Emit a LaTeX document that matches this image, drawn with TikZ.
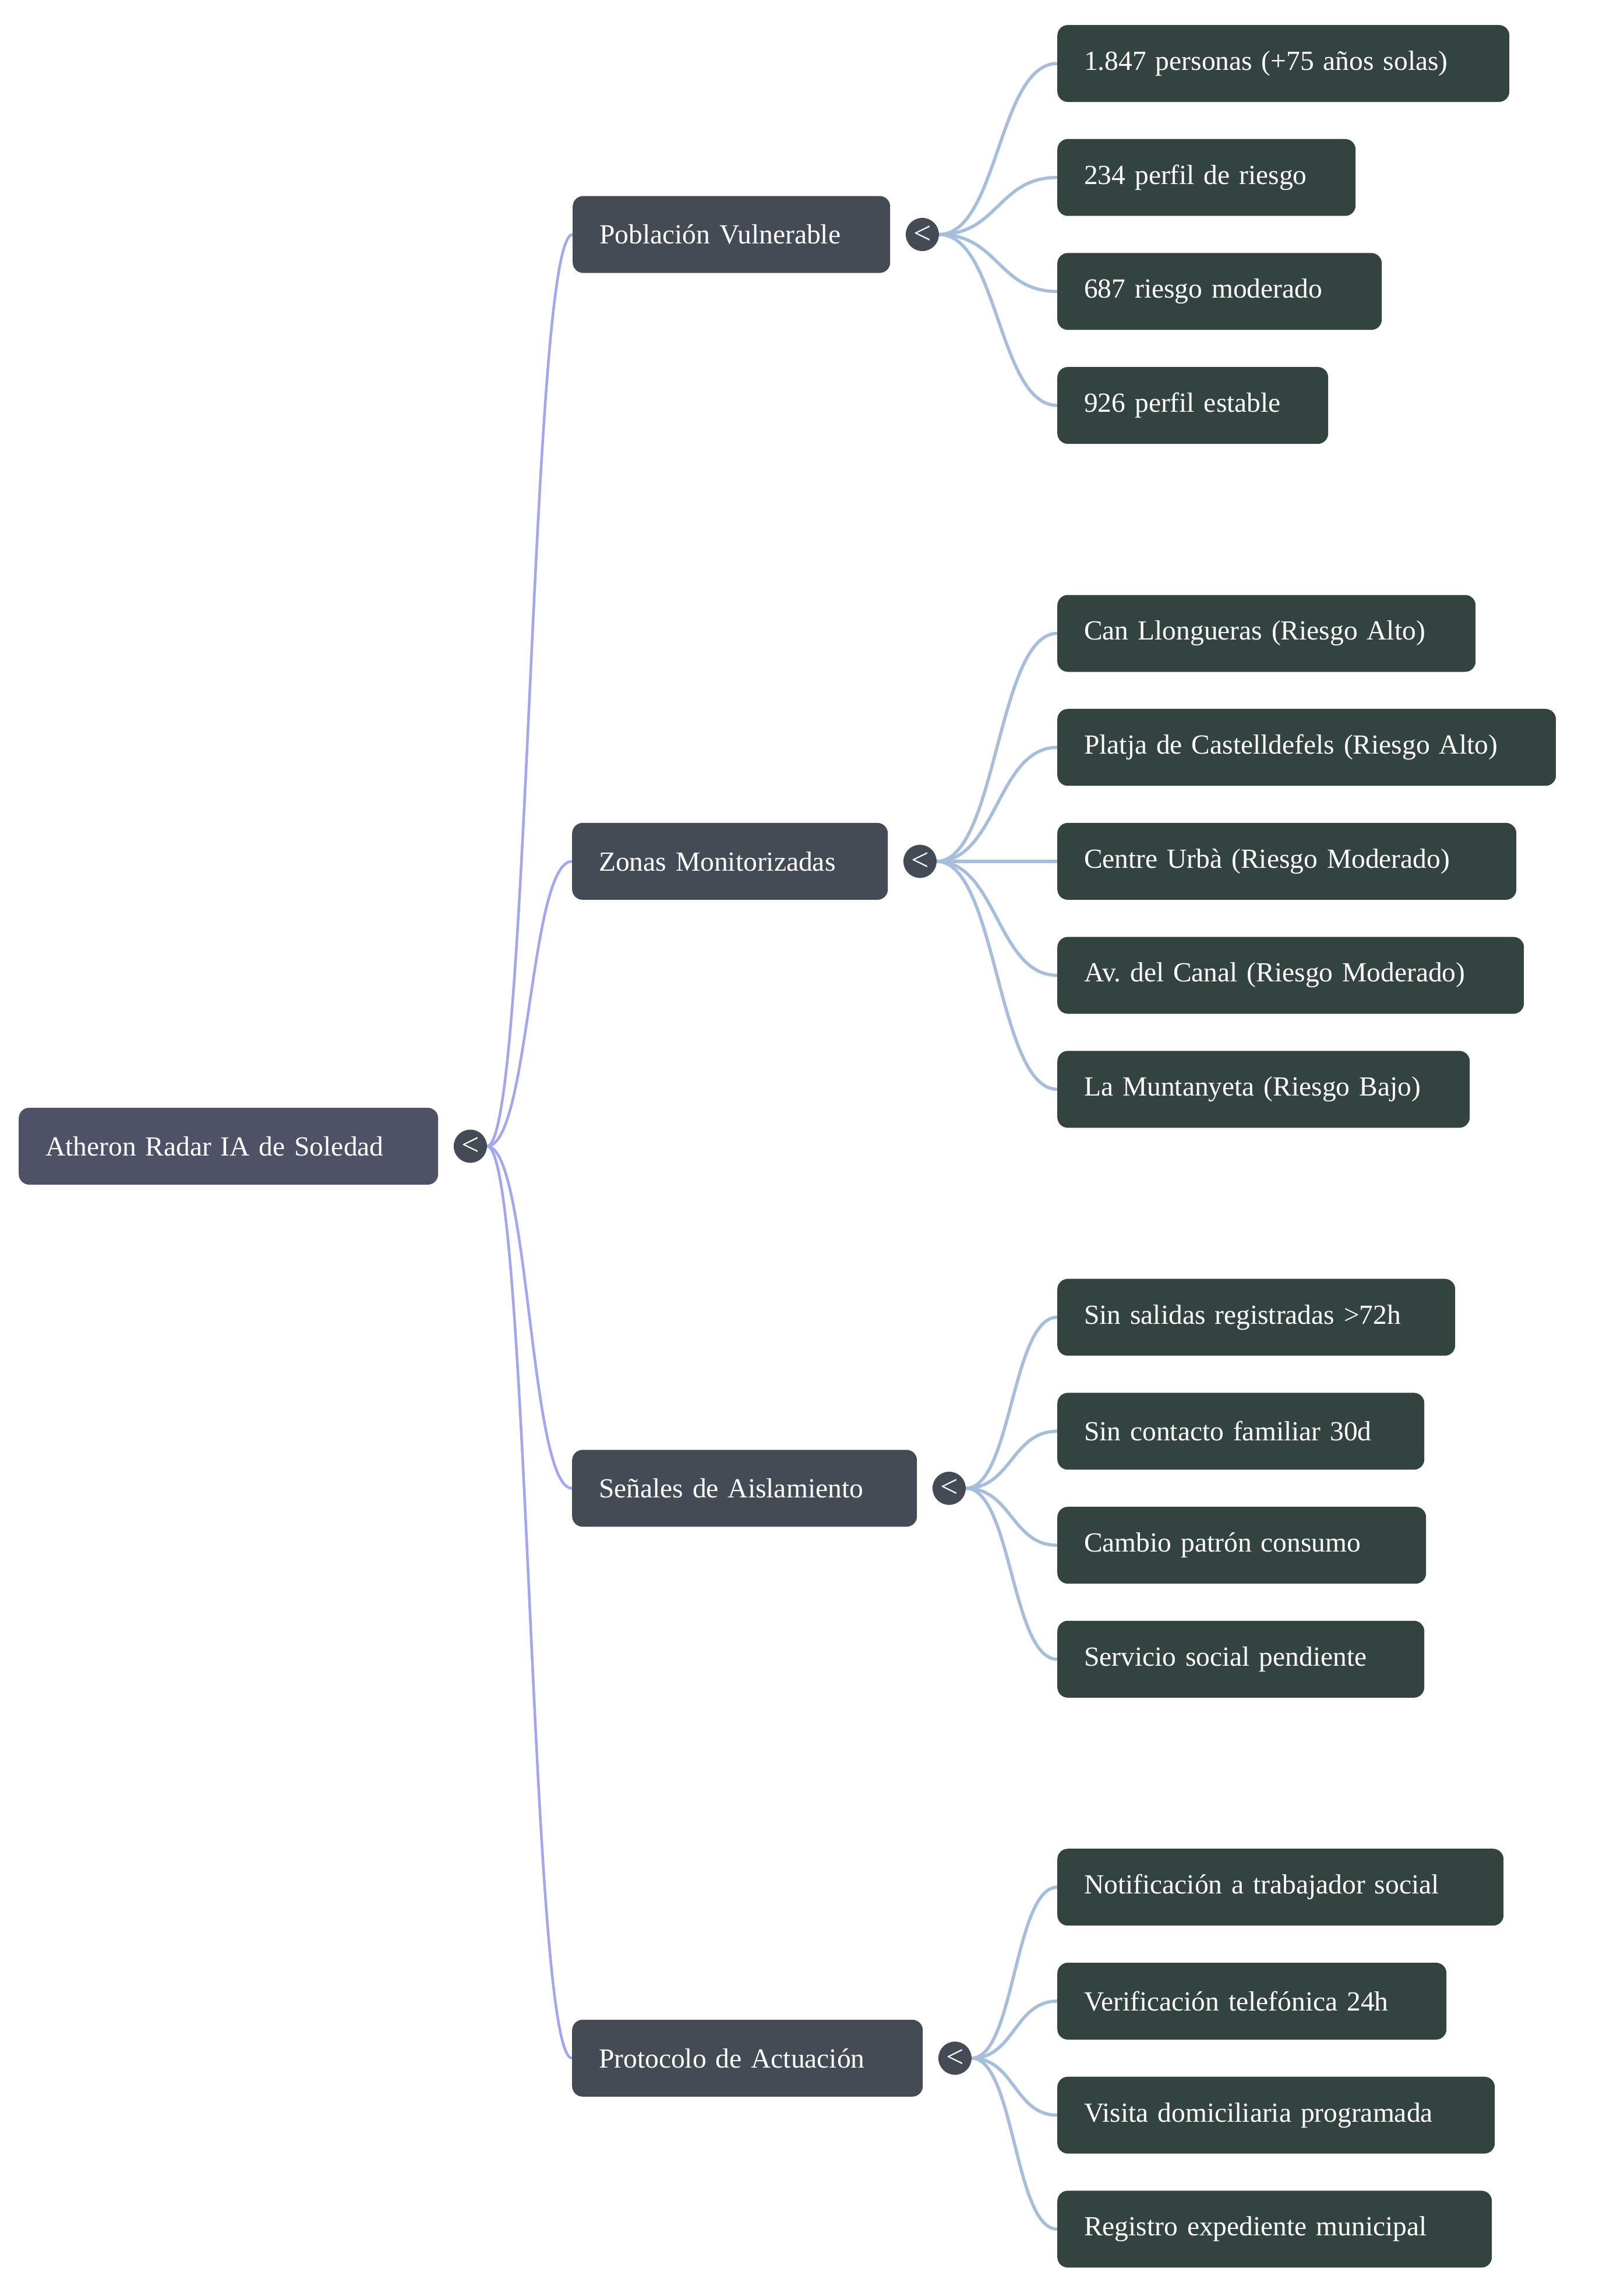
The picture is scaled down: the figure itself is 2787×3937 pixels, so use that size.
\documentclass[tikz,border=0pt]{standalone}
\usepackage{fontspec}
\setmainfont{Liberation Serif}
\usetikzlibrary{calc}
\pgfdeclarelayer{background}
\pgfsetlayers{background,main}
\definecolor{rootc}{HTML}{4F5166}
\definecolor{catc}{HTML}{444B55}
\definecolor{leafc}{HTML}{33433F}
\definecolor{rootline}{HTML}{A0A5F6}
\definecolor{leafline}{HTML}{A5BEDB}
\tikzset{
  box/.style={rectangle, rounded corners=18pt, minimum height=132pt, inner xsep=46pt, inner ysep=0pt, text=white, font=\fontsize{47.5}{57}\selectfont\frenchspacing, anchor=west, align=left},
  rootbox/.style={box, fill=rootc},
  catbox/.style={box, fill=catc},
  leafbox/.style={box, fill=leafc},
  toggle/.style={circle, fill=catc, minimum size=57pt, inner sep=0pt, text=white, font=\fontsize{54}{54}\selectfont},
  rootedge/.style={draw=rootline, line width=4.5pt},
  leafedge/.style={draw=leafline, line width=5.5pt},
}
\newcommand\mmlink[3]{%
  \draw[#1] let \p1=(#2.east), \p2=(#3.west), \n1={(\x1+\x2)/2} in (\p1) .. controls (\n1,\y1) and (\n1,\y2) .. (\p2);}
\newcommand\mmbox[6]{\pgfmathsetmacro\mmtw{#5-92}\node[#1, text width=\mmtw pt] (#2) at (#3,#4) {#6};}
\begin{document}
\begin{tikzpicture}[x=1pt,y=-1pt]
\useasboundingbox (0,0) rectangle (2787,3937);
% root
\mmbox{rootbox}{root}{32}{1968}{720}{Atheron Radar IA de Soledad}
\node[toggle] (t0) at ($(root.east)+(55,0)$) {<};
% categories
\mmbox{catbox}{pob}{983}{402.6}{545}{Población Vulnerable}
\mmbox{catbox}{zon}{982}{1478.9}{542}{Zonas Monitorizadas}
\mmbox{catbox}{sen}{982}{2555.3}{592}{Señales de Aislamiento}
\mmbox{catbox}{pro}{982}{3533.8}{602}{Protocolo de Actuación}
\node[toggle] (tp) at ($(pob.east)+(55,0)$) {<};
\node[toggle] (tz) at ($(zon.east)+(55,0)$) {<};
\node[toggle] (ts) at ($(sen.east)+(55,0)$) {<};
\node[toggle] (tr) at ($(pro.east)+(55,0)$) {<};
% leaves
\mmbox{leafbox}{l1}{1815}{109}{776}{1.847 personas (+75 años solas)}
\mmbox{leafbox}{l2}{1815}{304.7}{512}{234 perfil de riesgo}
\mmbox{leafbox}{l3}{1815}{500.4}{557}{687 riesgo moderado}
\mmbox{leafbox}{l4}{1815}{696.1}{465}{926 perfil estable}
\mmbox{leafbox}{l5}{1815}{1087.5}{718}{Can Llongueras (Riesgo Alto)}
\mmbox{leafbox}{l6}{1815}{1283.2}{856}{Platja de Castelldefels (Riesgo Alto)}
\mmbox{leafbox}{l7}{1815}{1478.9}{788}{Centre Urbà (Riesgo Moderado)}
\mmbox{leafbox}{l8}{1815}{1674.6}{801}{Av. del Canal (Riesgo Moderado)}
\mmbox{leafbox}{l9}{1815}{1870.3}{708}{La Muntanyeta (Riesgo Bajo)}
\mmbox{leafbox}{l10}{1815}{2261.7}{683}{Sin salidas registradas >72h}
\mmbox{leafbox}{l11}{1815}{2457.4}{630}{Sin contacto familiar 30d}
\mmbox{leafbox}{l12}{1815}{2653.1}{633}{Cambio patrón consumo}
\mmbox{leafbox}{l13}{1815}{2848.8}{630}{Servicio social pendiente}
\mmbox{leafbox}{l14}{1815}{3240.2}{766}{Notificación a trabajador social}
\mmbox{leafbox}{l15}{1815}{3435.9}{668}{Verificación telefónica 24h}
\mmbox{leafbox}{l16}{1815}{3631.6}{751}{Visita domiciliaria programada}
\mmbox{leafbox}{l17}{1815}{3827.3}{746}{Registro expediente municipal}
% connectors
\begin{pgfonlayer}{background}
\mmlink{rootedge}{t0}{pob}
\mmlink{rootedge}{t0}{zon}
\mmlink{rootedge}{t0}{sen}
\mmlink{rootedge}{t0}{pro}
\mmlink{leafedge}{tp}{l1}
\mmlink{leafedge}{tp}{l2}
\mmlink{leafedge}{tp}{l3}
\mmlink{leafedge}{tp}{l4}
\mmlink{leafedge}{tz}{l5}
\mmlink{leafedge}{tz}{l6}
\mmlink{leafedge}{tz}{l7}
\mmlink{leafedge}{tz}{l8}
\mmlink{leafedge}{tz}{l9}
\mmlink{leafedge}{ts}{l10}
\mmlink{leafedge}{ts}{l11}
\mmlink{leafedge}{ts}{l12}
\mmlink{leafedge}{ts}{l13}
\mmlink{leafedge}{tr}{l14}
\mmlink{leafedge}{tr}{l15}
\mmlink{leafedge}{tr}{l16}
\mmlink{leafedge}{tr}{l17}
\end{pgfonlayer}
\end{tikzpicture}
\end{document}
